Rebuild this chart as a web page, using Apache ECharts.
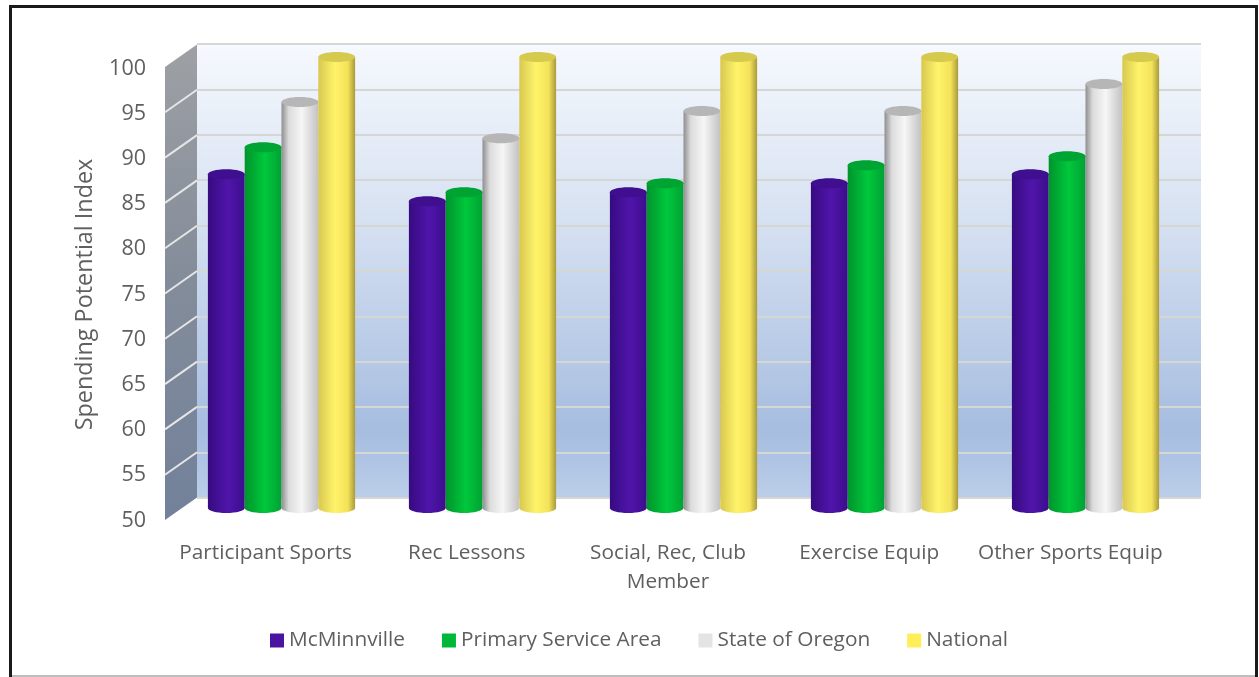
<!DOCTYPE html>
<html><head><meta charset="utf-8">
<style>html,body{margin:0;padding:0;background:#fff}#c{width:1259px;height:677px}</style>
<script src="https://cdn.jsdelivr.net/npm/echarts@6/dist/echarts.min.js"></script>
</head><body><div id="c"></div>
<script>
const categories = ['Participant Sports','Rec Lessons','Social, Rec, Club\nMember','Exercise Equip','Other Sports Equip'];
const mcminnville = [87,84,85,86,87];
const primaryServiceArea = [90,85,86,88,89];
const stateOfOregon = [95,91,94,94,97];
const national = [100,100,100,100,100];
const yTicks = [50,55,60,65,70,75,80,85,90,95,100];
const seriesNames = ['McMinnville','Primary Service Area','State of Oregon','National'];
const seriesValues = [mcminnville,primaryServiceArea,stateOfOregon,national];
const swatch = ['#4a14a0','#00b838','#e4e4e4','#ffee58'];
const capCol = ['#3f0f90','#00a433','#b6b6b6','#d6ca4e'];
const stops = [
 [[0,'#360b80'],[0.55,'#5015ab'],[1,'#3c0d8c']],
 [[0,'#00942c'],[0.55,'#00c83c'],[1,'#00a233']],
 [[0,'#8e8e8e'],[0.2,'#dcdcdc'],[0.55,'#f6f6f6'],[1,'#c2c2c2']],
 [[0,'#d8c850'],[0.45,'#fff36a'],[0.8,'#f3e25a'],[1,'#a99a3a']]
];
const grad = s => ({type:'linear',x:0,y:0,x2:1,y2:0,colorStops:s.map(p=>({offset:p[0],color:p[1]}))});
const BW = 36.8, DX = 32, DY = 22.5, FONT = '"Open Sans"', TXT = '#5f5f5f';

const bars = seriesNames.map((n,i)=>({
  type:'bar',name:n,data:seriesValues[i],xAxisIndex:2,yAxisIndex:2,
  barWidth:BW,barGap:0,z:5,itemStyle:{color:grad(stops[i])}
}));
const caps = seriesNames.map((n,i)=>({
  type:'custom',name:n+' caps',xAxisIndex:2,yAxisIndex:2,z:5,clip:false,
  data:seriesValues[i].map((v,k)=>[k,v]),encode:{x:0,y:1},
  renderItem(p,api){
    const top=api.coord([api.value(0),api.value(1)]), base=api.coord([api.value(0),50]);
    const cx=top[0]+(i-1.5)*BW;
    return {type:'group',children:[
      {type:'ellipse',shape:{cx,cy:base[1],rx:BW/2,ry:5},style:{fill:grad(stops[i])},z2:1},
      {type:'ellipse',shape:{cx,cy:top[1],rx:BW/2,ry:5},style:{fill:capCol[i]},z2:i*2+2}
    ]};
  }
}));
const sideWall = {
  type:'custom',name:'side wall',xAxisIndex:0,yAxisIndex:0,z:2,silent:true,clip:false,
  data:yTicks.map(t=>[0,t]),encode:{x:0,y:1},
  renderItem(p,api){
    const L=p.coordSys.x, y=api.coord([0,api.value(1)])[1];
    const ch=[];
    if(p.dataIndex===0){
      const yT=api.coord([0,yTicks[yTicks.length-1]])[1];
      ch.push({type:'polygon',shape:{points:[[L,yT],[L+DX,yT-DY],[L+DX,y-DY],[L,y]]},
        style:{fill:{type:'linear',x:0,y:0,x2:0,y2:1,colorStops:[{offset:0,color:'#9ea0a4'},{offset:.5,color:'#838c9a'},{offset:1,color:'#72819a'}]}}});
    } else if(api.value(1)<100){
      ch.push({type:'line',shape:{x1:L,y1:y,x2:L+DX,y2:y-DY},style:{stroke:'#e6e6e6',lineWidth:2}});
    }
    return {type:'group',children:ch};
  }
};
const hiddenAxis = {show:false};
const option = {
  animation:false,backgroundColor:'#fff',
  textStyle:{fontFamily:FONT},
  grid:[
    {left:165,top:67,width:1006,height:453},
    {left:197,top:44,width:1004,height:454,show:true,borderWidth:0,
     backgroundColor:{type:'linear',x:0,y:0,x2:0,y2:1,colorStops:[{offset:0,color:'#f6f9fe'},{offset:.4,color:'#d5e0f1'},{offset:.85,color:'#a6bde0'},{offset:1,color:'#bbcee9'}]}},
    {left:181,top:57,width:1005,height:451},
    {left:165,top:68.5,width:1006,height:452}
  ],
  xAxis:[
    {gridIndex:0,type:'category',data:categories,axisLine:{show:false},axisTick:{show:false},
     position:'bottom',
     axisLabel:{margin:19,fontSize:20.8,color:TXT,lineHeight:29,fontFamily:FONT,interval:0}},
    {gridIndex:1,type:'category',data:categories,...hiddenAxis},
    {gridIndex:2,type:'category',data:categories,...hiddenAxis},
    {gridIndex:3,type:'category',data:categories,...hiddenAxis}
  ],
  yAxis:[
    {gridIndex:0,type:'value',min:50,max:100,interval:5,show:false},
    {gridIndex:1,type:'value',min:50,max:100,interval:5,axisLine:{show:false},axisTick:{show:false},axisLabel:{show:false},
     splitLine:{show:true,lineStyle:{color:'#d6d6d2',width:2}}},
    {gridIndex:2,type:'value',min:50,max:100,interval:5,show:false},
    {gridIndex:3,type:'value',min:50,max:100,interval:5,axisLine:{show:false},axisTick:{show:false},splitLine:{show:false},
     axisLabel:{margin:19,fontSize:21.5,color:TXT,fontFamily:FONT},
     name:'Spending Potential Index',nameLocation:'middle',nameGap:68,nameRotate:90,
     nameTextStyle:{fontSize:23.4,color:TXT,fontFamily:FONT}}
  ],
  legend:{left:265,top:625,itemWidth:14,itemHeight:14,itemGap:37,icon:'rect',
    textStyle:{fontSize:20.8,color:TXT,fontFamily:FONT},
    data:seriesNames.map((n,i)=>({name:n,itemStyle:{color:swatch[i]}}))},
  series:[sideWall,...bars,...caps],
  graphic:[
    {type:'polyline',silent:true,z:100,shape:{points:[[10.5,677],[10.5,6.5],[1256.5,6.5],[1256.5,677]]},
     style:{fill:'none',stroke:'#1a1a1a',lineWidth:3}},
    {type:'line',silent:true,z:100,shape:{x1:12,y1:676,x2:1255,y2:676},style:{stroke:'#a8a8a8',lineWidth:1.5}}
  ]
};
echarts.init(document.getElementById('c')).setOption(option);
</script></body></html>
